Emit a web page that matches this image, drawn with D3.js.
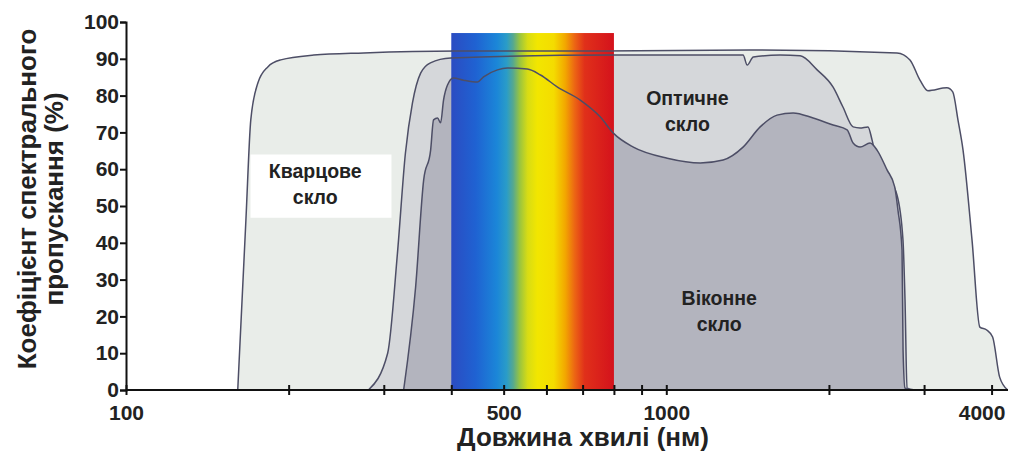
<!DOCTYPE html>
<html><head><meta charset="utf-8">
<script src="https://cdn.jsdelivr.net/npm/d3@7/dist/d3.min.js"></script>
<style>
html,body{margin:0;padding:0;background:#fff;}
text{font-family:"Liberation Sans",Arial,Helvetica,sans-serif;font-weight:bold;fill:#222;}
</style></head>
<body>
<svg id="chart" width="1011" height="452"></svg>
<script>
// ---- data ----
const quartzWl = [161,166.7,170.2,175.4,183,193.4,222.6,275.4,410.9,755,1429,2673,2825,2948,3049,3306,3390,3466,3542,3680,3805,3918,4018,4140,4285];
const quartzT  = [0,46.2,73.4,83.4,87.8,89.7,91.0,91.6,92.1,92.1,92.4,91.6,89.7,84.2,81.3,82.1,81.0,73.4,65.2,40.8,17.1,16.3,14.4,3.5,0];

const opticalWl = [281,305,318,329,339,351,366,399,798,1387,1412,1449,1624,1769,1902,2036,2123,2217,2284,2362,2404,2444,2562,2673,2742,2766,2790,2885];
const opticalT  = [0,10,37.2,64.4,78,86.1,88.9,90.2,91,91,88.3,90.5,91,90.8,87,82.3,76.9,71.5,71.2,71.5,67.9,63.3,57.9,53,40.8,24.5,0.5,0];

const windowWl = [326.5,343.6,355.6,366.3,370.9,377.3,382.2,387,393.6,403.7,421.5,447.4,459,487,508,553,585,629,693,755,798,869,1004,1156,1274,1387,1492,1603,1717,1870,2036,2161,2217,2284,2383,2455,2562,2647,2684,2731,2743,2766,2825];
const windowT  = [0,28,57.1,65.2,73.4,73.9,72.6,78.8,82.9,84.8,84.2,83.7,85.1,87,87.5,87.2,85.6,82.3,78.8,74.2,69.8,66,63,61.7,62.5,66,71.5,74.7,75.3,73.9,72,70.7,67.1,66,67.1,65.2,59.8,55.2,48.9,38,10.9,0.5,0];

const spectrumRange = [400, 800];
const yTicks = [0,10,20,30,40,50,60,70,80,90,100];
const xTicks = [100,200,300,400,500,600,700,800,900,1000,2000,3000,4000];
const xTickLabels = {100:"100",500:"500",1000:"1000",4000:"4000"};
const seriesLabels = [["Кварцове","скло"],["Оптичне","скло"],["Віконне","скло"]];
const xTitle = "Довжина хвилі (нм)";
const yTitle = ["Коефіцієнт спектрального","пропускання (%)"];

// ---- chart ----
const svg = d3.select("#chart");
const x = d3.scaleLog().domain([100, 4290]).range([126, 1008]);
const y = d3.scaleLinear().domain([0, 100]).range([390, 22]);

const toPts = (wl, t) => wl.map((w,i)=>[w,t[i]]);
const area = d3.area().x(d=>x(d[0])).y0(y(0)).y1(d=>y(d[1])).curve(d3.curveMonotoneX);
const line = d3.line().x(d=>x(d[0])).y(d=>y(d[1])).curve(d3.curveMonotoneX);

const series = [
  {pts: toPts(quartzWl, quartzT), fill:"#e9ede9"},
  {pts: toPts(opticalWl, opticalT), fill:"#d5d7da"},
  {pts: toPts(windowWl, windowT), fill:"#b3b4be"}
];
const strokeCol = "#4d4e66";

series.forEach(s=>{
  svg.append("path").attr("d", area(s.pts)).attr("fill", s.fill);
  svg.append("path").attr("d", line(s.pts)).attr("fill","none").attr("stroke",strokeCol).attr("stroke-width",1.5);
});

// spectrum
const defs = svg.append("defs");
const grad = defs.append("linearGradient").attr("id","spec").attr("x1","0").attr("x2","1").attr("y1","0").attr("y2","0");
[[0,"#2b4cc2"],[0.15,"#1f62d2"],[0.28,"#1b86d8"],[0.34,"#2a9cc8"],[0.38,"#55a890"],[0.42,"#98c440"],[0.47,"#d8dc14"],[0.53,"#f2e600"],[0.63,"#f4dc00"],[0.7,"#f2a800"],[0.76,"#ec6414"],[0.82,"#e0301a"],[1,"#d4121c"]]
  .forEach(s=>grad.append("stop").attr("offset",s[0]).attr("stop-color",s[1]));
defs.append("clipPath").attr("id","specClip").append("rect")
  .attr("x", x(spectrumRange[0])).attr("width", x(spectrumRange[1]) - x(spectrumRange[0]))
  .attr("y", 0).attr("height", 452);
svg.append("rect")
  .attr("x", x(spectrumRange[0])).attr("width", x(spectrumRange[1]) - x(spectrumRange[0]))
  .attr("y", y(97)).attr("height", y(0) - y(97))
  .attr("fill","url(#spec)");

// redraw lines over the spectrum
series.forEach(s=>{
  svg.append("path").attr("d", line(s.pts)).attr("fill","none").attr("stroke",strokeCol).attr("stroke-width",1.5)
    .attr("clip-path","url(#specClip)");
});

// quartz label box
svg.append("rect").attr("x", x(170)).attr("width", x(310)-x(170))
  .attr("y", y(64)).attr("height", y(46.8)-y(64)).attr("fill","#fff");

function label(lines, wl, t){
  const g = svg.append("text").attr("text-anchor","middle").style("font-size","19.5px");
  lines.forEach((l,i)=>g.append("tspan").attr("x", x(wl)).attr("y", y(t) + i*26).text(l));
}
label(seriesLabels[0], 224, 57.6);
label(seriesLabels[1], 1094, 77.4);
label(seriesLabels[2], 1253, 23.2);

// axes
const yAxis = d3.axisLeft(y).tickValues(yTicks).tickSize(6).tickPadding(1);
const gy = svg.append("g").attr("transform","translate(126,0)").call(yAxis);
gy.select(".domain").attr("stroke","#111").attr("stroke-width",2);
gy.selectAll(".tick line").attr("stroke","#111").attr("stroke-width",2);

const xAxis = d3.axisBottom(x).tickValues(xTicks).tickSize(5).tickPadding(10)
  .tickFormat(d=>xTickLabels[d]||"");
const gx = svg.append("g").attr("transform","translate(0,390)").call(xAxis);
gx.select(".domain").attr("stroke","#111").attr("stroke-width",2).attr("d","M126,0H1008");
gx.selectAll(".tick line").attr("stroke","#111").attr("stroke-width",2).attr("y1",-5);
gx.selectAll(".tick text").filter(d=>d===4000).attr("dx", -10);

svg.selectAll(".tick text")
  .attr("font-family",null).attr("font-size",null).attr("fill","#222")
  .style("font-family",'"Liberation Sans",Arial,sans-serif').style("font-weight","bold").style("font-size","21px");

svg.append("text").attr("x", 583).attr("y", 446).attr("text-anchor","middle").style("font-size","26px").text(xTitle);
const yt = svg.append("text").attr("transform","translate(36,199) rotate(-90)").attr("text-anchor","middle").style("font-size","26px");
yTitle.forEach((l,i)=>yt.append("tspan").attr("x",0).attr("y", i*27).text(l));
</script>
</body></html>
